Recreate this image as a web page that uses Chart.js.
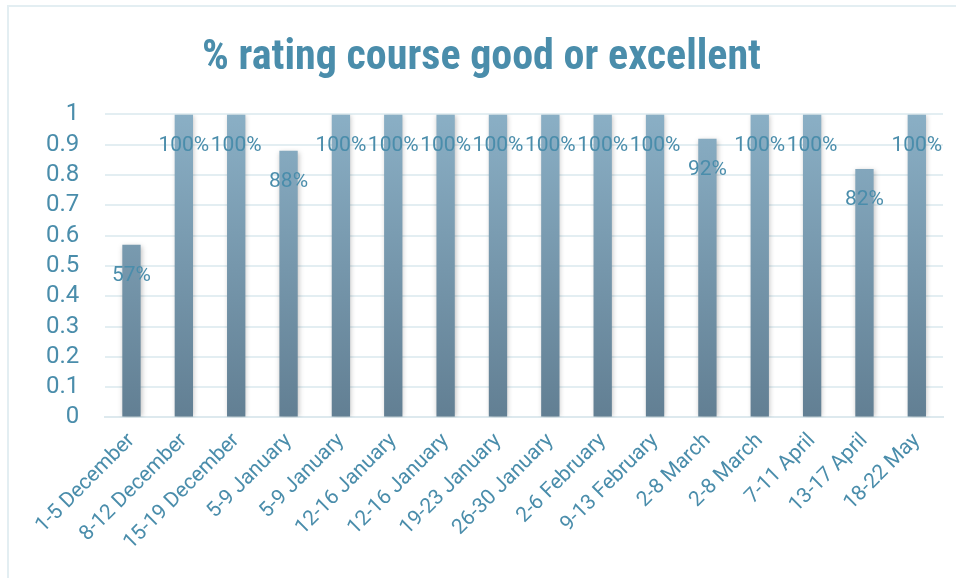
<!DOCTYPE html>
<html>
<head>
<meta charset="utf-8">
<script src="https://cdn.jsdelivr.net/npm/chart.js@4.4.0/dist/chart.umd.min.js"></script>
<style>
  html, body { margin: 0; padding: 0; background: #fff; }
  #wrap { position: absolute; left: 7px; top: 5px; width: 949px; height: 573px;
          border-left: 2px solid #e3eef2; border-top: 2px solid #e3eef2; box-sizing: border-box; }
  canvas { display: block; }
</style>
</head>
<body>
<div id="wrap"><canvas id="rating_chart" width="947" height="571"></canvas></div>
<script>
var weeks = ['1-5 December', '8-12 December', '15-19 December', '5-9 January', '5-9 January',
  '12-16 January', '12-16 January', '19-23 January', '26-30 January', '2-6 February',
  '9-13 February', '2-8 March', '2-8 March', '7-11 April', '13-17 April', '18-22 May'];
var goodOrExcellent = [0.57, 1, 1, 0.88, 1, 1, 1, 1, 1, 1, 1, 0.92, 1, 1, 0.82, 1];

var teal = '#4a8dab';
var fontName = "Roboto, 'Liberation Sans', sans-serif";

// value labels drawn a bit under the top of each bar
var barLabels = {
  id: 'barLabels',
  afterDatasetsDraw: function(chart) {
    var ctx = chart.ctx;
    var meta = chart.getDatasetMeta(0);
    ctx.save();
    ctx.font = '21px ' + fontName;
    ctx.fillStyle = teal;
    ctx.textAlign = 'center';
    ctx.textBaseline = 'middle';
    meta.data.forEach(function(bar, i) {
      var v = chart.data.datasets[0].data[i];
      ctx.fillText(Math.round(v * 100) + '%', bar.x, bar.y + 31);
    });
    ctx.restore();
  }
};

// soft shadow behind the bars
var barShadow = {
  id: 'barShadow',
  beforeDatasetsDraw: function(chart) {
    chart.ctx.save();
    chart.ctx.shadowColor = 'rgba(0,0,0,0.25)';
    chart.ctx.shadowBlur = 5;
    chart.ctx.shadowOffsetX = 1;
    chart.ctx.shadowOffsetY = 1;
  },
  afterDatasetsDraw: function(chart) {
    chart.ctx.restore();
  }
};

var ratingChart = new Chart('rating_chart', {
  type: 'bar',
  data: {
    labels: weeks,
    datasets: [{
      label: '% rating course good or excellent',
      data: goodOrExcellent,
      backgroundColor: function(c) {
        var area = c.chart.chartArea;
        if (!area) return '#7a9fb5';
        var g = c.chart.ctx.createLinearGradient(0, area.bottom, 0, area.top);
        g.addColorStop(0, '#627f93');
        g.addColorStop(1, '#8aafc5');
        return g;
      },
      borderWidth: 0,
      barPercentage: 0.35,
      categoryPercentage: 1
    }]
  },
  options: {
    responsive: false,
    animation: false,
    layout: { padding: { left: 11, right: 13, top: 6, bottom: 20 } },
    plugins: {
      legend: { display: false },
      tooltip: { enabled: false },
      title: {
        display: true,
        text: '% rating course good or excellent',
        color: teal,
        font: { family: "'Roboto Condensed', 'Liberation Sans Narrow', Roboto, sans-serif", size: 42, weight: 'bold' },
        padding: { top: 20, bottom: 31 }
      }
    },
    scales: {
      x: {
        grid: { display: false },
        border: { color: '#dde9ee', width: 2 },
        ticks: {
          color: teal,
          font: { family: fontName, size: 21 },
          maxRotation: 45,
          minRotation: 45,
          autoSkip: false
        }
      },
      y: {
        min: 0,
        max: 1,
        grid: { color: '#e3eef2', lineWidth: 2, drawTicks: false },
        border: { display: false },
        ticks: {
          stepSize: 0.1,
          autoSkip: false,
          color: teal,
          padding: 26,
          font: { family: fontName, size: 24 },
          callback: function(v) { return String(Math.round(v * 10) / 10); }
        }
      }
    }
  },
  plugins: [barShadow, barLabels]
});
</script>
</body>
</html>
